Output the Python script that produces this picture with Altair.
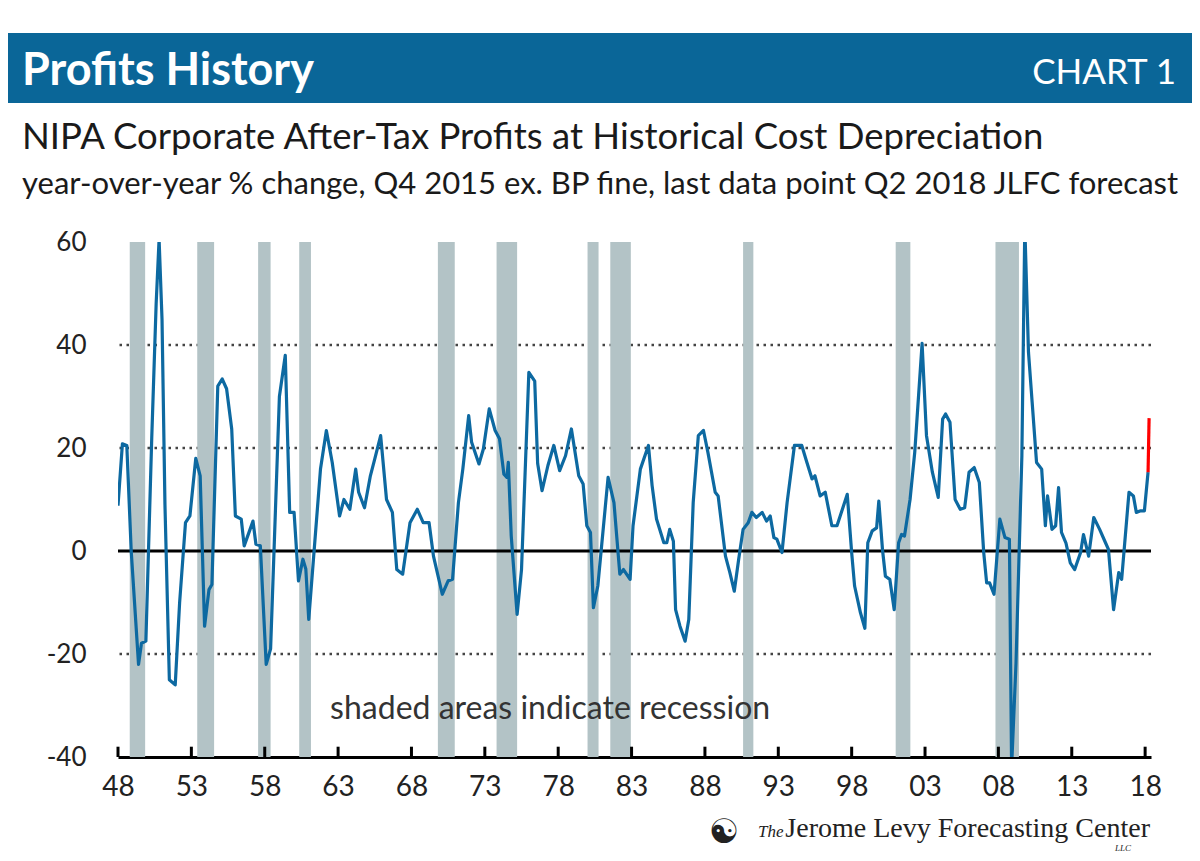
import altair as alt
import pandas as pd

# ---------------- data ----------------
years = [1948.0, 1948.3, 1948.6, 1948.9, 1949.4, 1949.6, 1949.9, 1950.3, 1950.6, 1950.8,
         1951.0, 1951.2, 1951.5, 1951.9, 1952.2, 1952.6, 1952.9, 1953.3, 1953.6, 1953.9,
         1954.2, 1954.4, 1954.8, 1955.1, 1955.4, 1955.75, 1956.0, 1956.4, 1956.6, 1957.2,
         1957.4, 1957.7, 1958.1, 1958.4, 1959.0, 1959.4, 1959.7, 1960.0, 1960.3, 1960.6,
         1960.8, 1961.0, 1961.8, 1962.2, 1962.6, 1963.1, 1963.4, 1963.8, 1964.2, 1964.4,
         1964.8, 1965.2, 1965.5, 1965.9, 1966.3, 1966.7, 1967.0, 1967.4, 1967.9, 1968.4,
         1968.8, 1969.2, 1969.5, 1970.1, 1970.5, 1970.8, 1971.2, 1971.5, 1971.9, 1972.1,
         1972.6, 1972.9, 1973.3, 1973.7, 1974.0, 1974.3, 1974.5, 1974.6, 1974.8, 1975.2,
         1975.5, 1976.0, 1976.4, 1976.6, 1976.9, 1977.3, 1977.7, 1978.1, 1978.5, 1978.9,
         1979.4, 1979.7, 1979.95, 1980.2, 1980.4, 1980.7, 1981.4, 1981.8, 1982.2, 1982.45,
         1982.9, 1983.1, 1983.6, 1984.15, 1984.4, 1984.7, 1985.2, 1985.4, 1985.6, 1985.85,
         1986.0, 1986.3, 1986.65, 1986.9, 1987.2, 1987.55, 1987.9, 1988.2, 1988.7, 1988.9,
         1989.4, 1989.7, 1990.0, 1990.3, 1990.6, 1990.95, 1991.2, 1991.5, 1991.9, 1992.2,
         1992.45, 1992.7, 1992.9, 1993.25, 1993.6, 1994.1, 1994.6, 1994.95, 1995.3, 1995.5,
         1995.85, 1996.2, 1996.65, 1997.0, 1997.7, 1998.0, 1998.2, 1998.6, 1998.9, 1999.1,
         1999.4, 1999.7, 1999.85, 2000.1, 2000.3, 2000.6, 2000.9, 2001.2, 2001.4, 2001.6,
         2001.98, 2002.3, 2002.8, 2003.1, 2003.5, 2003.9, 2004.2, 2004.4, 2004.7, 2005.05,
         2005.4, 2005.7, 2006.0, 2006.35, 2006.7, 2007.0, 2007.2, 2007.4, 2007.7, 2008.1,
         2008.45, 2008.75, 2008.9, 2009.2, 2009.6, 2009.8, 2010.05, 2010.3, 2010.6, 2010.95,
         2011.2, 2011.35, 2011.65, 2011.9, 2012.1, 2012.3, 2012.6, 2012.9, 2013.2, 2013.6,
         2013.8, 2014.15, 2014.5, 2014.9, 2015.3, 2015.5, 2015.85, 2016.2, 2016.4, 2016.9,
         2017.2, 2017.4, 2017.7, 2017.95, 2018.2]
values = [8.8, 20.8, 20.5, 0.0, -22.0, -17.9, -17.5, 22.0, 48.0, 60.5,
          45.0, 9.0, -25.0, -26.0, -10.0, 5.5, 6.8, 18.0, 14.6, -14.6,
          -7.5, -6.5, 32.0, 33.4, 31.5, 23.7, 6.8, 6.2, 1.0, 5.8,
          1.3, 1.0, -22.0, -19.0, 30.0, 38.0, 7.5, 7.5, -5.8, -1.6,
          -3.5, -13.3, 15.9, 23.4, 17.2, 6.8, 10.0, 8.1, 15.9, 11.4,
          8.4, 14.6, 17.9, 22.4, 10.0, 7.5, -3.6, -4.5, 5.5, 8.1,
          5.5, 5.5, -1.0, -8.4, -5.8, -5.5, 9.4, 15.9, 26.3, 21.1,
          16.9, 19.8, 27.6, 23.4, 21.8, 14.9, 14.3, 17.2, 2.9, -12.3,
          -3.6, 34.7, 33.0, 17.0, 11.7, 16.6, 20.5, 15.6, 18.5, 23.7,
          14.6, 13.0, 4.9, 3.6, -11.0, -6.8, 14.3, 9.4, -4.5, -3.6,
          -5.5, 4.9, 15.9, 20.5, 12.7, 6.2, 1.6, 1.6, 4.2, 1.9,
          -11.4, -14.6, -17.5, -13.3, 9.4, 22.4, 23.4, 19.2, 11.4, 10.7,
          -1.0, -4.2, -7.8, -1.6, 4.2, 5.5, 7.5, 6.5, 7.5, 5.8,
          6.8, 2.6, 2.3, -0.3, 9.4, 20.5, 20.5, 17.2, 14.0, 14.6,
          10.7, 11.4, 4.9, 4.9, 11.0, -0.3, -6.8, -12.0, -15.0, 1.6,
          3.9, 4.5, 9.7, 0.3, -4.9, -5.5, -11.4, 1.6, 3.2, 2.9,
          10.0, 19.2, 40.3, 22.4, 15.3, 10.4, 25.6, 26.6, 25.0, 10.0,
          8.1, 8.4, 15.3, 16.2, 13.3, -0.3, -6.2, -6.2, -8.4, 6.2,
          2.6, 2.3, -42.0, -21.8, 18.5, 63.0, 38.6, 28.9, 17.2, 15.9,
          4.9, 10.7, 4.2, 4.9, 12.3, 3.6, 1.6, -2.3, -3.6, -0.3,
          3.2, -1.0, 6.5, 4.2, 1.6, 0.3, -11.4, -4.2, -5.5, 11.4,
          10.7, 7.5, 7.8, 7.8, 15.3]

# JLFC forecast segment (last data point Q2 2018)
fc_years = [2018.2, 2018.27]
fc_values = [15.3, 25.8]

# recessions
rec_start = [1948.8, 1953.4, 1957.55, 1960.35, 1969.8, 1973.8, 1980.0, 1981.55, 1990.6, 2001.0, 2007.8]
rec_end = [1949.85, 1954.55, 1958.4, 1961.15, 1970.95, 1975.2, 1980.75, 1982.95, 1991.3, 2002.0, 2009.4]

grid_levels = [40, 20, -20]
zero_level = [0]
x_tick_years = [1948, 1953, 1958, 1963, 1968, 1973, 1978, 1983, 1988, 1993, 1998, 2003, 2008, 2013, 2018]
y_tick_values = [-40, -20, 0, 20, 40, 60]
x_domain = [1948, 2018.4]
y_domain = [-40, 60]

note_x = [1977.45]
note_y = [-32.6]
note_text = ["shaded areas indicate recession"]

title_text = ["Profits History"]
chart_no_text = ["CHART 1"]
sub1_text = ["NIPA Corporate After-Tax Profits at Historical Cost Depreciation"]
sub2_text = ["year-over-year % change, Q4 2015 ex. BP fine, last data point Q2 2018 JLFC forecast"]
logo_icon = ["\u262f"]
logo_the = ["The"]
logo_name = ["Jerome Levy Forecasting Center"]
logo_llc = ["LLC"]

# ---------------- frames ----------------
df_line = pd.DataFrame({"year": years, "value": values})
df_fc = pd.DataFrame({"year": fc_years, "value": fc_values})
df_rec = pd.DataFrame({"start": rec_start, "end": rec_end})
df_grid = pd.DataFrame({"level": grid_levels})
df_zero = pd.DataFrame({"level": zero_level})
df_ticks = pd.DataFrame({"year": x_tick_years})
df_note = pd.DataFrame({"x": note_x, "y": note_y, "text": note_text})

W, H = 1033, 515
SANS = "Lato"

xs = alt.Scale(domain=x_domain, nice=False, zero=False)
ys = alt.Scale(domain=y_domain, nice=False, zero=False)
x_axis = alt.Axis(values=x_tick_years, labelExpr="substring(toString(datum.value), 2, 4)",
                  title=None, ticks=False, grid=False, domainColor="black", domainWidth=3,
                  labelFont=SANS, labelFontSize=28, labelColor="#222222", labelPadding=16,
                  labelFlush=False, labelOverlap=False)
y_axis = alt.Axis(values=y_tick_values, labelExpr="toString(datum.value)", title=None,
                  ticks=False, grid=False, domain=False, labelFont=SANS, labelFontSize=26,
                  labelColor="#222222", labelPadding=32)


def X(f):
    return alt.X(f, type="quantitative", scale=xs, axis=x_axis)


def Y(f):
    return alt.Y(f, type="quantitative", scale=ys, axis=y_axis)


grid = alt.Chart(df_grid).mark_rule(color="#444444", strokeWidth=2.6, strokeDash=[2.5, 4.5]).encode(y=Y("level"))
rec = alt.Chart(df_rec).mark_rect(color="#b3c3c6").encode(x=X("start"), x2="end")
zero = alt.Chart(df_zero).mark_rule(color="black", strokeWidth=3).encode(y=Y("level"))
line = alt.Chart(df_line).mark_line(color="#0d69a1", strokeWidth=3.2, clip=True, strokeJoin="round").encode(
    x=X("year"), y=Y("value"))
fc = alt.Chart(df_fc).mark_line(color="#ff0000", strokeWidth=3.2, clip=True).encode(x=X("year"), y=Y("value"))
ticks = alt.Chart(df_ticks).mark_rule(color="black", strokeWidth=3).encode(
    x=X("year"), y=alt.YDatum(-40, scale=ys, axis=y_axis), y2=alt.Y2Datum(-38))
note = alt.Chart(df_note).mark_text(font=SANS, fontSize=32, color="#333333", align="center",
                                    baseline="alphabetic").encode(x=X("x"), y=Y("y"), text="text")


def txt(content, px, py, **kw):
    d = pd.DataFrame({"t": content})
    return alt.Chart(d).mark_text(**kw).encode(x=alt.value(px), y=alt.value(py), text="t:N")


band = alt.Chart(pd.DataFrame({"t": title_text})).mark_rect(color="#0a6698").encode(
    x=alt.value(-118), x2=alt.value(1077), y=alt.value(-209), y2=alt.value(-139))
title = txt(title_text, -96, -157, font=SANS, fontSize=45, fontWeight="bold", color="white",
            align="left", baseline="alphabetic")
chartno = txt(chart_no_text, 1058, -158, font=SANS, fontSize=35, color="white",
              align="right", baseline="alphabetic")
sub1 = txt(sub1_text, -96, -93, font=SANS, fontSize=36.5, color="#1a1a1a",
           align="left", baseline="alphabetic")
sub2 = txt(sub2_text, -96, -48, font=SANS, fontSize=31, color="#1a1a1a",
           align="left", baseline="alphabetic")
icon = txt(logo_icon, 606, 601, font="DejaVu Sans", fontSize=34, color="#222222", align="center",
           baseline="alphabetic")
the = txt(logo_the, 640, 595, font="Liberation Serif", fontSize=17, fontStyle="italic", color="#222222",
          align="left", baseline="alphabetic")
name = txt(logo_name, 1032, 595, font="Liberation Serif", fontSize=28, color="#222222", align="right",
           baseline="alphabetic")
llc = txt(logo_llc, 1005, 609, font="Liberation Serif", fontSize=9, fontStyle="italic", color="#222222",
          align="center", baseline="alphabetic")

chart = alt.layer(grid, rec, zero, line, fc, ticks, note, band, title, chartno, sub1, sub2,
                  icon, the, name, llc).properties(
    width=W, height=H,
    padding={"left": 110, "top": 234, "right": 41, "bottom": 96},
    autosize=alt.AutoSizeParams(type="none"),
    background="white",
).configure_view(stroke=None)

chart.save("out.html", embed_options={"renderer": "svg", "actions": False})
